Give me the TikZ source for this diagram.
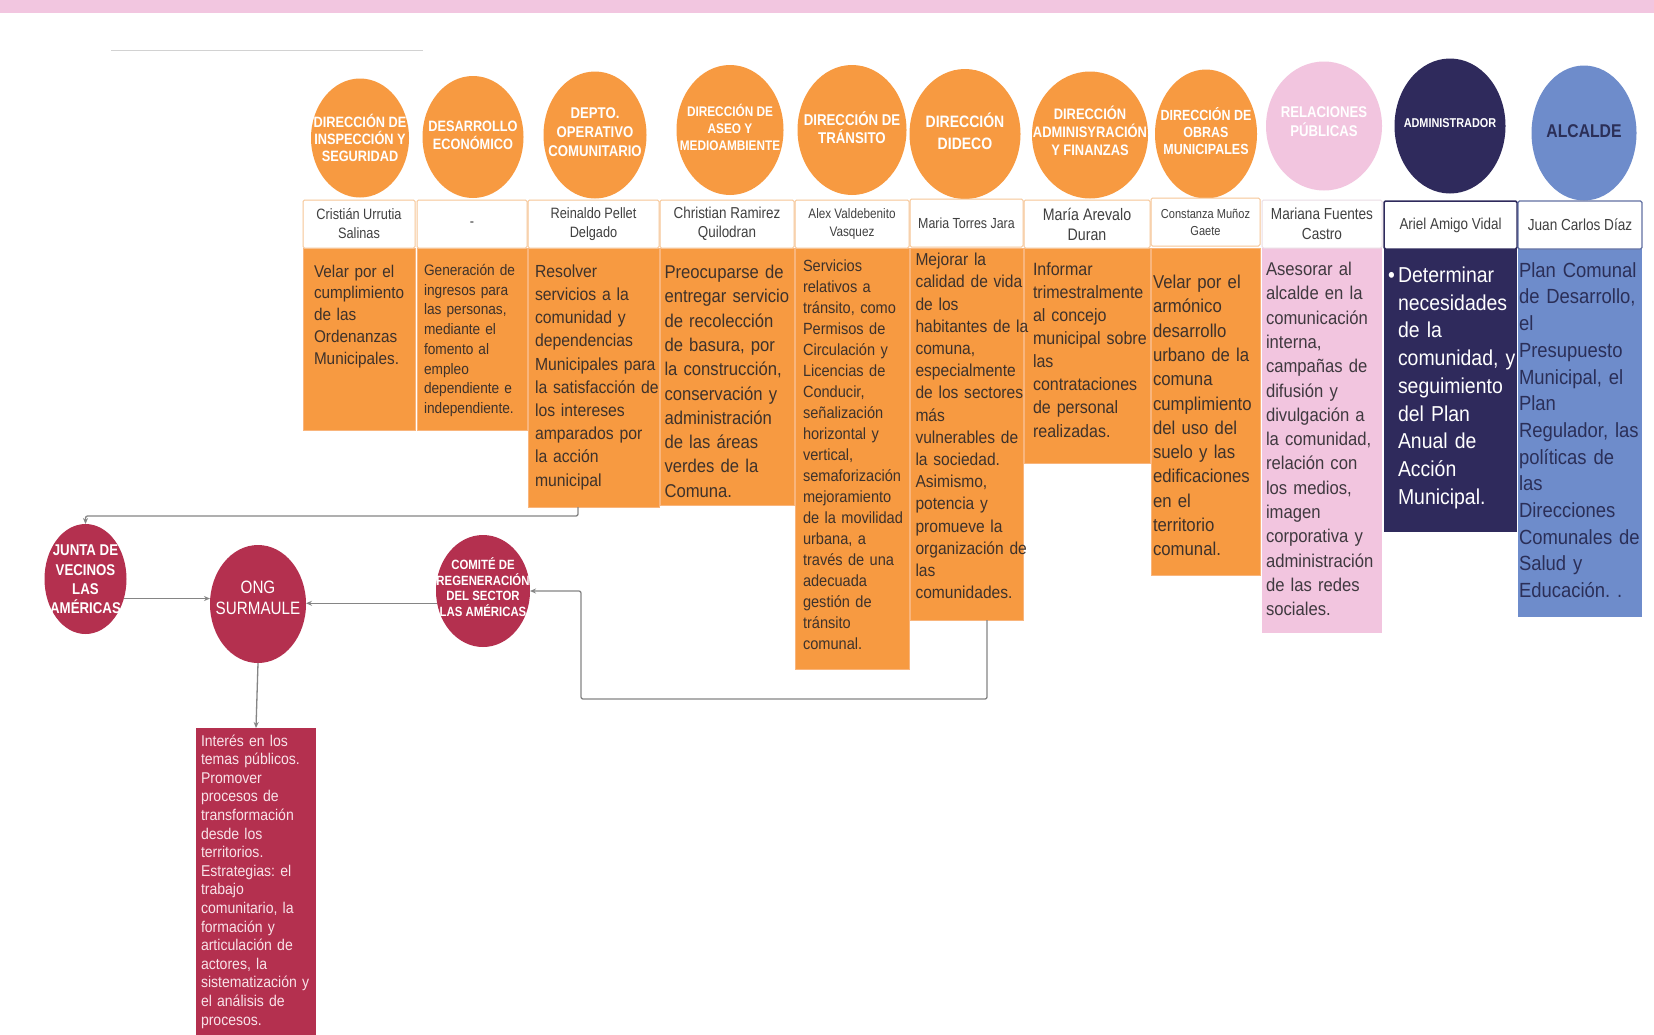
\documentclass[tikz,border=0pt]{standalone}
\usepackage{fontspec}
\setmainfont{Liberation Sans}
\newfontfamily\cond[FakeStretch=0.85]{Liberation Sans}
\newfontfamily\dsc[FakeStretch=0.9]{Liberation Sans}
\usetikzlibrary{shapes.geometric,calc,arrows.meta}
\newcommand\setfs[2]{\fontsize{#1}{#2}\selectfont}
\definecolor{orng}{HTML}{F79A41}
\definecolor{obord}{HTML}{F9B57C}
\definecolor{pnk}{HTML}{F2C5DF}
\definecolor{navy}{HTML}{2F2A5C}
\definecolor{peri}{HTML}{6E8CCB}
\definecolor{crim}{HTML}{B4304F}
\definecolor{otxt}{HTML}{3E322B}
\definecolor{ptxt}{HTML}{3F393F}
\definecolor{itxt}{HTML}{2B2F58}
\definecolor{ntxt}{HTML}{404040}
\definecolor{nmor}{HTML}{F6C596}
\definecolor{nmpk}{HTML}{EBDCE4}
\definecolor{nmpe}{HTML}{6170A2}
\definecolor{conng}{HTML}{858585}
\definecolor{band}{HTML}{F2C6E0}
\definecolor{rtxt}{HTML}{F8E2E8}
\tikzset{
  circ/.style={ellipse, inner sep=0pt, outer sep=0pt},
  lbl/.style={inner sep=0pt, align=center, text=white},
  namebox/.style={draw=nmor, fill=white, line width=1pt, rounded corners=1.5pt, align=center, inner sep=0pt, outer sep=0pt, text=ntxt},
  dbox/.style={anchor=north west, inner sep=0pt, outer sep=0pt},
  desc/.style={anchor=base west, inner sep=0pt, outer sep=0pt, align=left},
  conn/.style={draw=conng, line width=1.3pt, rounded corners=2pt, -{Stealth[length=6pt,width=5pt]}}
}
\begin{document}
\frenchspacing
\begin{tikzpicture}[x=1pt,y=-1pt]
\useasboundingbox (0,0) rectangle (1654,1034);
\begin{scope}
\clip (0,0) rectangle (1654,1034);
\fill[white] (0,0) rectangle (1654,1034);
\fill[band] (0,0) rectangle (1654,13);
\draw[gray!35, line width=0.8pt] (111,50) -- (423,50);

% ---- circles (top row)
\node[circ, fill=orng, minimum width=98pt, minimum height=119pt] (c1) at (360,138) {};
\node[circ, fill=orng, minimum width=101pt, minimum height=122pt] (c2) at (473,137) {};
\node[circ, fill=orng, minimum width=103pt, minimum height=127pt] (c3) at (595,135) {};
\node[circ, fill=orng, minimum width=107pt, minimum height=130pt] (c4) at (730,130) {};
\node[circ, fill=orng, minimum width=109pt, minimum height=130pt] (c5) at (852,130) {};
\node[circ, fill=orng, minimum width=111pt, minimum height=130pt] (c6) at (965,134) {};
\node[circ, fill=orng, minimum width=116pt, minimum height=127pt] (c7) at (1090,135) {};
\node[circ, fill=orng, minimum width=102pt, minimum height=129pt] (c8) at (1206,134) {};
\node[circ, fill=pnk, minimum width=116pt, minimum height=129pt] (c9) at (1324,126) {};
\node[circ, fill=navy, minimum width=111pt, minimum height=135pt] (c10) at (1450,126) {};
\node[circ, fill=peri, minimum width=105pt, minimum height=135pt] (c11) at (1584,133) {};

\node[lbl, font=\cond\bfseries\setfs{15}{17}] (c1t) at (360,137.5) {DIRECCIÓN DE\\INSPECCIÓN Y\\SEGURIDAD};
\node[lbl, font=\cond\bfseries\setfs{15}{18}] (c2t) at (473,135.5) {DESARROLLO\\ECONÓMICO};
\node[lbl, font=\cond\bfseries\setfs{15.5}{19}] (c3t) at (595,132) {DEPTO.\\OPERATIVO\\COMUNITARIO};
\node[lbl, font=\cond\bfseries\setfs{13.9}{17}] (c4t) at (730,127.6) {DIRECCIÓN DE\\ASEO Y\\MEDIOAMBIENTE};
\node[lbl, font=\cond\bfseries\setfs{15.6}{18}] (c5t) at (852,128) {DIRECCIÓN DE\\TRÁNSITO};
\node[lbl, font=\cond\bfseries\setfs{16.5}{22}] (c6t) at (965,131) {DIRECCIÓN\\DIDECO};
\node[lbl, font=\cond\bfseries\setfs{15.2}{18}] (c7t) at (1090,131) {DIRECCIÓN\\ADMINISYRACIÓN\\Y FINANZAS};
\node[lbl, font=\cond\bfseries\setfs{14.7}{17}] (c8t) at (1206,131) {DIRECCIÓN DE\\OBRAS\\MUNICIPALES};
\node[lbl, font=\cond\bfseries\setfs{15.5}{19}] (c9t) at (1324,122) {RELACIONES\\PÚBLICAS};
\node[lbl, font=\cond\bfseries\setfs{12.8}{15}] (c10t) at (1450,123.4) {ADMINISTRADOR};
\node[lbl, text=itxt, font=\cond\bfseries\setfs{18.5}{21}] (c11t) at (1584,130.8) {ALCALDE};

% ---- description boxes
\node[dbox, fill=orng, draw=obord, line width=0.8pt, minimum width=112pt, minimum height=182pt] (d1) at (303,248) {};
\node[dbox, fill=orng, draw=obord, line width=0.8pt, minimum width=110pt, minimum height=182pt] (d2) at (417,248) {};
\node[dbox, fill=orng, draw=obord, line width=0.8pt, minimum width=131pt, minimum height=259pt] (d3) at (528,248) {};
\node[dbox, fill=orng, draw=obord, line width=0.8pt, minimum width=134pt, minimum height=257pt] (d4) at (660,248) {};
\node[dbox, fill=orng, draw=obord, line width=0.8pt, minimum width=114pt, minimum height=421pt] (d5) at (795,248) {};
\node[dbox, fill=orng, draw=obord, line width=0.8pt, minimum width=113pt, minimum height=372pt] (d6) at (910,248) {};
\node[dbox, fill=orng, draw=obord, line width=0.8pt, minimum width=126pt, minimum height=215pt] (d7) at (1024,248) {};
\node[dbox, fill=orng, draw=obord, line width=0.8pt, minimum width=109pt, minimum height=327pt] (d8) at (1151,248) {};
\node[dbox, fill=pnk, minimum width=120pt, minimum height=385pt] (d9) at (1262,248) {};
\node[dbox, fill=navy, minimum width=133pt, minimum height=284pt] (d10) at (1384,248) {};
\node[dbox, fill=peri, minimum width=124pt, minimum height=369pt] (d11) at (1518,248) {};

\node[desc, text=otxt, text width=112pt, font=\dsc\setfs{17}{21.9}] (t1) at (314,277) {Velar por el\\cumplimiento\\de las\\Ordenanzas\\Municipales.};
\node[desc, text=otxt, text width=112pt, font=\dsc\setfs{15.2}{19.7}] (t2) at (424,275.5) {Generación de\\ingresos para\\las personas,\\mediante el\\fomento al\\empleo\\dependiente e\\independiente.};
\node[desc, text=otxt, text width=136pt, font=\dsc\setfs{17.5}{23.2}] (t3) at (535,277.2) {Resolver\\servicios a la\\comunidad y\\dependencias\\Municipales para\\la satisfacción de\\los intereses\\amparados por\\la acción\\municipal};
\node[desc, text=otxt, text width=140pt, font=\dsc\setfs{18.5}{24.3}] (t4) at (664.5,278.5) {Preocuparse de\\entregar servicio\\de recolección\\de basura, por\\la construcción,\\conservación y\\administración\\de las áreas\\verdes de la\\Comuna.};
\node[desc, text=otxt, text width=116pt, font=\dsc\setfs{16.2}{21}] (t5) at (803,271.9) {Servicios\\relativos a\\tránsito, como\\Permisos de\\Circulación y\\Licencias de\\Conducir,\\señalización\\horizontal y\\vertical,\\semaforización\\mejoramiento\\de la movilidad\\urbana, a\\través de una\\adecuada\\gestión de\\tránsito\\comunal.};
\node[desc, text=otxt, text width=118pt, font=\dsc\setfs{17.3}{22.2}] (t6) at (915.5,265.7) {Mejorar la\\calidad de vida\\de los\\habitantes de la\\comuna,\\especialmente\\de los sectores\\más\\vulnerables de\\la sociedad.\\Asimismo,\\potencia y\\promueve la\\organización de\\las\\comunidades.};
\node[desc, text=otxt, text width=125pt, font=\dsc\setfs{17.8}{23.1}] (t7) at (1033,275.3) {Informar\\trimestralmente\\al concejo\\municipal sobre\\las\\contrataciones\\de personal\\realizadas.};
\node[desc, text=otxt, text width=115pt, font=\dsc\setfs{18.6}{24.3}] (t8) at (1153,288.5) {Velar por el\\armónico\\desarrollo\\urbano de la\\comuna\\cumplimiento\\del uso del\\suelo y las\\edificaciones\\en el\\territorio\\comunal.};
\node[desc, text=ptxt, text width=124pt, font=\dsc\setfs{18.5}{24.3}] (t9) at (1266,275.5) {Asesorar al\\alcalde en la\\comunicación\\interna,\\campañas de\\difusión y\\divulgación a\\la comunidad,\\relación con\\los medios,\\imagen\\corporativa y\\administración\\de las redes\\sociales.};
\node[desc, text=white, text width=126pt, font=\dsc\setfs{21.6}{27.7}] (t10) at (1398,282.5) {\llap{•\hspace{3pt}}Determinar\\necesidades\\de la\\comunidad, y\\seguimiento\\del Plan\\Anual de\\Acción\\Municipal.};
\node[desc, text=itxt, text width=130pt, font=\dsc\setfs{20.5}{26.7}] (t11) at (1519,277.2) {Plan Comunal\\de Desarrollo,\\el\\Presupuesto\\Municipal, el\\Plan\\Regulador, las\\políticas de\\las\\Direcciones\\Comunales de\\Salud y\\Educación. .};

% ---- name boxes
\node[namebox, minimum width=112pt, minimum height=48pt, font=\cond\setfs{15}{19}] (n1) at (359,224) {Cristián Urrutia\\Salinas};
\node[namebox, minimum width=110pt, minimum height=48pt, font=\cond\setfs{15}{19}] (n2) at (472,224) {-};
\node[namebox, minimum width=131pt, minimum height=48pt, font=\cond\setfs{15}{19}] (n3) at (593.5,224) {Reinaldo Pellet\\Delgado};
\node[namebox, minimum width=134pt, minimum height=48pt, font=\cond\setfs{15.8}{19.5}] (n4) at (727,224) {Christian Ramirez\\Quilodran};
\node[namebox, minimum width=114pt, minimum height=48pt, font=\cond\setfs{13.8}{18}] (n5) at (852,224) {Alex Valdebenito\\Vasquez};
\node[namebox, minimum width=113pt, minimum height=48pt, font=\cond\setfs{14.6}{18}] (n6) at (966.5,223) {Maria Torres Jara};
\node[namebox, minimum width=126pt, minimum height=48pt, font=\cond\setfs{16.7}{20}] (n7) at (1087,224) {María Arevalo\\Duran};
\node[namebox, minimum width=109pt, minimum height=48pt, font=\cond\setfs{13}{17}] (n8) at (1205.5,222) {Constanza Muñoz\\Gaete};
\node[namebox, draw=nmpk, minimum width=120pt, minimum height=48pt, font=\cond\setfs{16}{19.5}] (n9) at (1322,224) {Mariana Fuentes\\Castro};
\node[namebox, draw=navy, line width=1.5pt, minimum width=133pt, minimum height=48pt, font=\cond\setfs{15.8}{19}] (n10) at (1450.5,225) {Ariel Amigo Vidal};
\node[namebox, draw=nmpe, line width=1.2pt, minimum width=124pt, minimum height=48pt, font=\cond\setfs{16}{19}] (n11) at (1580,225) {Juan Carlos Díaz};

% ---- lower red nodes
\node[circ, fill=crim, minimum width=82pt, minimum height=110pt] (junta) at (85.5,579) {};
\node[circ, fill=crim, minimum width=96pt, minimum height=118pt] (ong) at (258,604) {};
\node[circ, fill=crim, minimum width=94pt, minimum height=112pt] (comite) at (483,591) {};
\node[lbl, font=\cond\bfseries\setfs{15.6}{19.3}] (juntat) at (85.5,579.5) {JUNTA DE\\VECINOS\\LAS\\AMÉRICAS};
\node[lbl, font=\cond\setfs{17.9}{21}] (ongt) at (258,598) {ONG\\SURMAULE};
\node[lbl, font=\cond\bfseries\setfs{13.4}{15.5}] (comitet) at (483,587) {COMITÉ DE\\REGENERACIÓN\\DEL SECTOR\\LAS AMÉRICAS};

\node[dbox, fill=crim, minimum width=120pt, minimum height=320pt] (rb) at (196,728) {};
\node[desc, text=rtxt, text width=122pt, font=\dsc\setfs{15.6}{18.6}] (rbt) at (201,746) {Interés en los\\temas públicos.\\Promover\\procesos de\\transformación\\desde los\\territorios.\\Estrategias: el\\trabajo\\comunitario, la\\formación y\\articulación de\\actores, la\\sistematización y\\el análisis de\\procesos.};

% ---- connectors
\draw[conn] ($(d3.south)+(-15.5,0)$) |- ($(junta.north)+(0,-8)$) -- (junta.north);
\draw[conn] (junta.-27.6) -- (junta.-27.6 -| ong.west);
\draw[conn] (comite.195) -- (comite.195 -| ong.east);
\draw[conn] ($(d6.south)+(20.5,0)$) -- ($(d6.south)+(20.5,79)$) -| ($(comite.east)+(51,0)$) -- (comite.east);
\draw[conn] (ong.south) -- (rb.north);
\end{scope}
\end{tikzpicture}
\end{document}
